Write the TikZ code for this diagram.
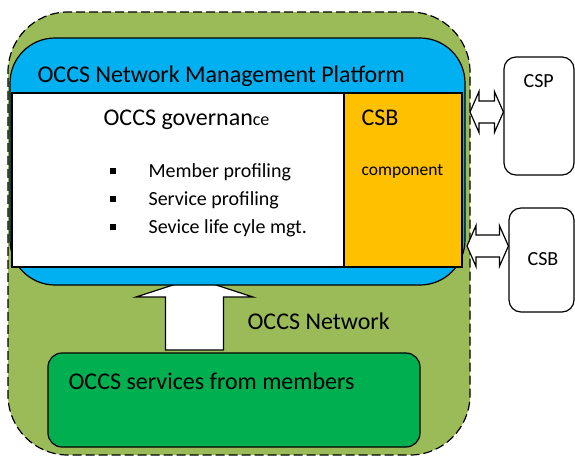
\documentclass[tikz,border=0pt]{standalone}
\usepackage{fontspec}
\setmainfont{Carlito}
\usepackage{tikz}
\usetikzlibrary{calc}
\definecolor{netgreen}{HTML}{9BBB59}
\definecolor{platblue}{HTML}{00B0F0}
\definecolor{csborange}{HTML}{FFC000}
\definecolor{svcgreen}{HTML}{00B050}

\begin{document}
\begin{tikzpicture}[x=1pt, y=-1pt, line width=1.2pt,
        box/.style={draw, rectangle, inner sep=0pt},
        txt/.style={inner sep=0pt, anchor=base west, font=\fontsize{24}{28}\selectfont},
        small/.style={inner sep=0pt, anchor=base west, font=\fontsize{20}{24}\selectfont}]
        \useasboundingbox (0,0) rectangle (575,456);
        \node[box, fill=netgreen, dash pattern=on 9pt off 4pt, rounded corners=60pt, minimum width=462pt, minimum height=443pt] (net) at (239,233.5) {};

        % arrow from the services up to the platform
        \coordinate (upbase) at (194.5,350);
        \draw[fill=white] (upbase) -- ++(29,0) -- ++(0,-53) -- ++(29.5,0) -- ++(-58.5,-19)
            -- ++(-58.5,19) -- ++(29.5,0) -- ++(0,53) -- cycle;

        \node[box, fill=platblue, rounded corners=45pt, minimum width=455pt, minimum height=247pt] (plat) at (237.5,161.5) {};
        \node[box, fill=white, minimum width=332pt, minimum height=174pt] (gov) at (178,180) {};
        \node[box, fill=csborange, minimum width=118pt, minimum height=174pt] (csbc) at (403,180) {};
        \node[box, fill=white, rounded corners=12pt, minimum width=70pt, minimum height=118pt] (csp) at (539,116) {};
        \node[box, fill=white, rounded corners=12pt, minimum width=65pt, minimum height=104pt] (csbr) at (541.5,260) {};
        \node[box, fill=svcgreen, rounded corners=14pt, minimum width=372pt, minimum height=94pt] (svc) at (234,400) {};

        % links to the outside
        \coordinate (a1) at (470,112);
        \coordinate (b1) at (csp.west |- a1);
        \coordinate (a2) at (467,246);
        \coordinate (b2) at (csbr.west |- a2);
        \foreach \a/\b in {a1/b1, a2/b2} {
            \draw[fill=white] (\a) -- ($(\a)+(9,-20.5)$) -- ($(\a)+(9,-11)$) -- ($(\b)+(-9,-11)$)
                -- ($(\b)+(-9,-20.5)$) -- (\b) -- ($(\b)+(-9,20.5)$) -- ($(\b)+(-9,11)$)
                -- ($(\a)+(9,11)$) -- ($(\a)+(9,20.5)$) -- cycle;
        }

        \node[txt] (plattitle) at (37,82) {OCCS Network Management Platform};
        \node[txt] (govtitle) at (103,125) {OCCS governan{\fontsize{18}{20}\selectfont ce}};
        \foreach \t [count=\i] in {Member profiling, Service profiling, Sevice life cyle mgt.} {
            \fill ($(113,171)+(0,28*\i-28)$) +(-3,-3) rectangle +(3,3);
            \node[small] (item\i) at ($(148,177)+(0,28*\i-28)$) {\t};
        }
        \node[txt] (csbtitle) at (361,125) {CSB};
        \node[inner sep=0pt, anchor=base west, font=\fontsize{17.5}{20}\selectfont] (comp) at (361,175) {component};
        \node[small] (csptxt) at (523,87) {CSP};
        \node[small] (csbrtxt) at (527,265) {CSB};
        \node[txt] (nettxt) at (247,329) {OCCS Network};
        \node[txt] (svctxt) at (68,389) {OCCS services from members};
    \end{tikzpicture}
\end{document}
